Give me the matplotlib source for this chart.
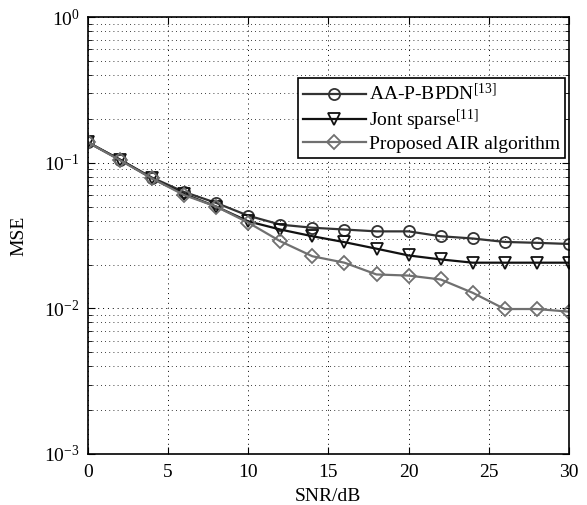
import matplotlib
matplotlib.use("Agg")
import matplotlib.pyplot as plt
from matplotlib.ticker import LogLocator, NullFormatter

snr = [0, 2, 4, 6, 8, 10, 12, 14, 16, 18, 20, 22, 24, 26, 28, 30]
aa_pbpdn = [0.138, 0.105, 0.079, 0.063, 0.053, 0.0433, 0.0376, 0.0358, 0.0348, 0.0338,
            0.0338, 0.0313, 0.0302, 0.0286, 0.0282, 0.0277]
joint_sparse = [0.138, 0.105, 0.078, 0.061, 0.050, 0.0396, 0.0348, 0.0313, 0.0285, 0.0257,
                0.0231, 0.0217, 0.0206, 0.0206, 0.0206, 0.0206]
proposed = [0.138, 0.104, 0.078, 0.060, 0.050, 0.0388, 0.0289, 0.0228, 0.0206, 0.0171,
            0.0168, 0.0158, 0.0128, 0.0099, 0.0099, 0.0095]
labels = ["AA-P-BPDN$^{[13]}$", "Jont sparse$^{[11]}$", "Proposed AIR algorithm"]
x_ticks = [0, 5, 10, 15, 20, 25, 30]

plt.rcParams['font.family'] = ['Liberation Serif', 'DejaVu Serif']
plt.rcParams['mathtext.fontset'] = 'custom'
plt.rcParams['mathtext.rm'] = 'Liberation Serif'
plt.rcParams['mathtext.it'] = 'Liberation Serif:italic'

fig = plt.figure(figsize=(5.87, 5.05), dpi=100)
ax = fig.add_axes([0.150, 0.101, 0.819, 0.865])

ax.semilogy(snr, aa_pbpdn, color='#333333', lw=1.6, marker='o', ms=8,
            mfc='none', mec='#333333', mew=1.3, label=labels[0])
ax.semilogy(snr, joint_sparse, color='#111111', lw=1.6, marker='v', ms=8,
            mfc='none', mec='#111111', mew=1.3, label=labels[1])
ax.semilogy(snr, proposed, color='#707070', lw=1.6, marker='D', ms=7,
            mfc='none', mec='#707070', mew=1.3, label=labels[2])

ax.set_xlim(0, 30)
ax.set_ylim(1e-3, 1)
ax.set_xticks(x_ticks)
ax.yaxis.set_major_locator(LogLocator(base=10, numticks=10))
ax.yaxis.set_minor_locator(LogLocator(base=10, subs=range(2, 10), numticks=10))
ax.yaxis.set_minor_formatter(NullFormatter())

ax.grid(True, which='major', axis='both', color='black', linestyle=(0, (1, 4)), lw=0.7)
ax.grid(True, which='minor', axis='y', color='black', linestyle=(0, (1, 4)), lw=0.6)

ax.tick_params(which='both', direction='in', top=True, right=True, labelsize=14)
ax.tick_params(axis='x', which='major', length=5, pad=7)
ax.tick_params(axis='y', which='major', length=5, pad=6)
ax.tick_params(which='minor', length=3)
for s in ax.spines.values():
    s.set_linewidth(1.2)

ax.set_xlabel("SNR/dB", fontsize=14, labelpad=5)
ax.set_ylabel("MSE", fontsize=14, labelpad=12)

leg = ax.legend(loc='upper right', bbox_to_anchor=(0.993, 0.86), fontsize=14,
                frameon=True, fancybox=False, edgecolor='black', framealpha=1,
                handlelength=3.2, handletextpad=0.2, borderpad=0.25,
                labelspacing=0.15, borderaxespad=0)
leg.get_frame().set_linewidth(1.2)

fig.savefig("out.png", dpi=100)
